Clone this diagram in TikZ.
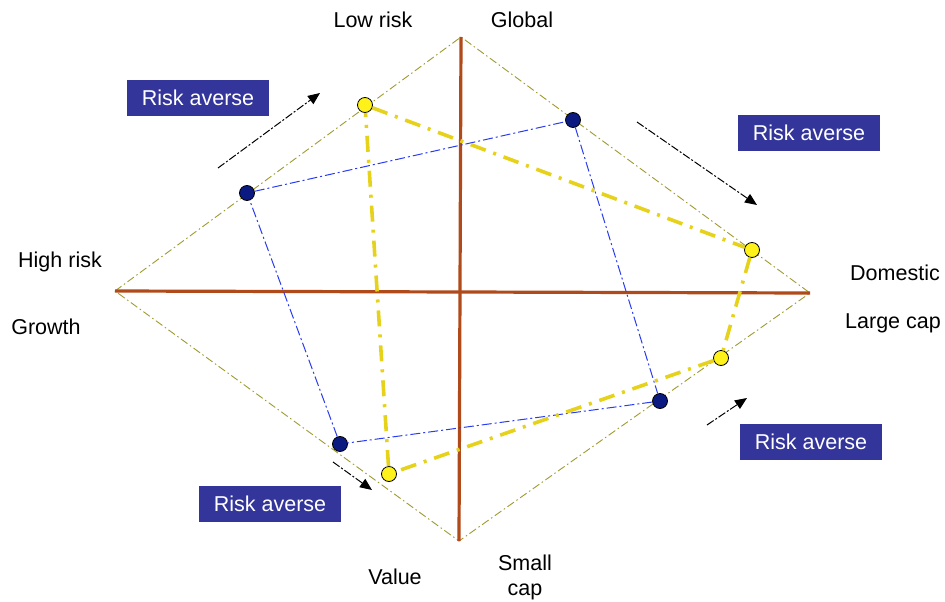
\documentclass[tikz,border=0pt]{standalone}
\usepackage{fontspec}
\setmainfont{Liberation Sans}
\usetikzlibrary{arrows.meta, positioning}
\definecolor{marron}{HTML}{B04A1A}
\definecolor{oliva}{HTML}{A09A30}
\definecolor{azulc}{HTML}{2A3CF0}
\definecolor{azulo}{HTML}{0A1A80}
\definecolor{amarillo}{HTML}{E6D21A}
\definecolor{amarclaro}{HTML}{FFF21A}
\definecolor{cajaazul}{HTML}{33359A}
\tikzset{
  eje/.style={line width=3.2pt, color=marron},
  rombo/.style={line width=0.9pt, color=oliva, dash pattern=on 8pt off 3pt on 1.5pt off 3pt},
  lazul/.style={line width=1pt, color=azulc, dash pattern=on 10pt off 3pt on 2pt off 3pt},
  lamar/.style={line width=3.6pt, color=amarillo, dash pattern=on 16pt off 8pt on 3pt off 8pt},
  pazul/.style={circle, draw=black, fill=azulo, minimum size=15pt, inner sep=0pt, line width=0.8pt},
  pamar/.style={circle, draw=black, fill=amarclaro, minimum size=15pt, inner sep=0pt, line width=0.8pt},
  flecha/.style={line width=1pt, color=black, dash pattern=on 8pt off 2pt on 2pt off 2pt, -{Triangle[length=12pt,width=10pt]}},
  cajariesgo/.style={rectangle, fill=cajaazul, text=white, minimum width=142pt, minimum height=36pt,
                     inner sep=2pt, font=\fontsize{21.5}{25}\selectfont},
  etiqueta/.style={font=\fontsize{21.5}{25}\selectfont, align=center, inner sep=0pt}
}
\begin{document}
\begin{tikzpicture}[x=1pt, y=-1pt]
  \useasboundingbox (0,0) rectangle (945,602);
  % rombo y ejes
  \coordinate (izq) at (115,291);
  \coordinate (arr) at (461,37);
  \coordinate (der) at (810,293);
  \coordinate (aba) at (459,541);
  \draw [rombo] (izq) -- (arr) -- (der) -- (aba) -- cycle;
  \draw [eje] (izq) -- (der);
  \draw [eje] (arr) -- (aba);
  % cuadrilatero azul
  \node (b1) [pazul] at (247,193) {};
  \node (b2) [pazul] at (573,120) {};
  \node (b3) [pazul] at (660,401) {};
  \node (b4) [pazul] at (340,444) {};
  \draw [lazul] (b1) -- (b2); \draw [lazul] (b2) -- (b3);
  \draw [lazul] (b3) -- (b4); \draw [lazul] (b4) -- (b1);
  % cuadrilatero amarillo
  \node (y1) [pamar] at (365,105) {};
  \node (y2) [pamar] at (752,250) {};
  \node (y3) [pamar] at (721,358) {};
  \node (y4) [pamar] at (389,474) {};
  \draw [lamar] (y1) -- (y2); \draw [lamar] (y2) -- (y3);
  \draw [lamar] (y3) -- (y4); \draw [lamar] (y4) -- (y1);
  % flechas
  \coordinate (f1a) at (218,168); \coordinate (f1b) at (320,93);
  \coordinate (f2a) at (637,122); \coordinate (f2b) at (757,205);
  \coordinate (f3a) at (333,462); \coordinate (f3b) at (372,490);
  \coordinate (f4a) at (707,425); \coordinate (f4b) at (747,398);
  \draw [flecha] (f1a) -- (f1b);
  \draw [flecha] (f2a) -- (f2b);
  \draw [flecha] (f3a) -- (f3b);
  \draw [flecha] (f4a) -- (f4b);
  % cajas
  \node (c1) [cajariesgo] at (198,98) {Risk averse};
  \node (c2) [cajariesgo] at (809,133) {Risk averse};
  \node (c3) [cajariesgo] at (811,442) {Risk averse};
  \node (c4) [cajariesgo] at (270,504) {Risk averse};
  % etiquetas
  \node (bajo) [etiqueta] at (373,20) {Low risk};
  \node (glob) [etiqueta] at (522,20) {Global};
  \node (alto) [etiqueta] at (60,262) {High risk};
  \node (crec) [etiqueta] at (46,327) {Growth};
  \node (dom) [etiqueta] at (895,273) {Domestic};
  \node (gran) [etiqueta] at (893,323) {Large cap};
  \node (valor) [etiqueta] at (395,577) {Value};
  \node (peq) [etiqueta] at (525,577) {Small\\cap};
\end{tikzpicture}
\end{document}
